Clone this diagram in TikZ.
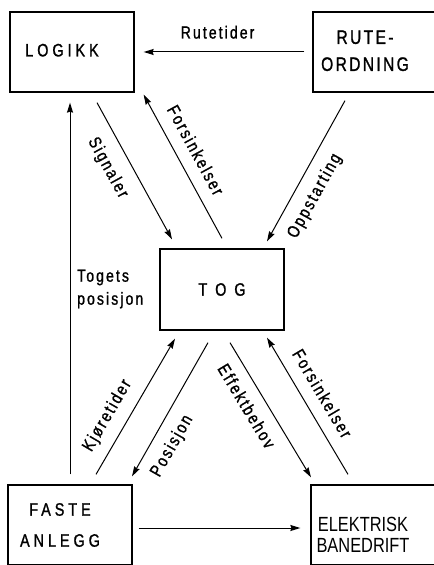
\documentclass[tikz,border=0pt]{standalone}
\usepackage{fontspec}
\setmainfont{Liberation Sans}[FakeStretch=0.8, FakeBold=1.2, LetterSpace=12]
\newfontfamily\widefont{Liberation Sans}[FakeStretch=0.8, FakeBold=1.2, LetterSpace=22]
\newfontfamily\tightfont{Liberation Sans}[FakeStretch=0.8]
\usetikzlibrary{arrows.meta}
\newcommand{\boxlabel}[1]{\begin{tabular}{@{}c@{}}#1\end{tabular}\hspace*{20bp}}

\begin{document}
\begin{tikzpicture}[
        x=1bp, y=-1bp,
        box/.style={draw, line width=1.3bp, minimum width=124bp,
                    minimum height=80bp, inner sep=0pt},
        arrow/.style={-{Stealth[length=10bp, width=6bp, inset=1bp]}, line width=1bp},
        lbl/.style={sloped, inner sep=1bp, text height=12bp, text depth=3.5bp,
                    font=\fontsize{17.5bp}{20bp}\selectfont},
    ]
        \useasboundingbox (0,0) rectangle (434,565);

        \node[box, font=\widefont\fontsize{18bp}{22bp}\selectfont] (logikk) at (72,52)
            {\boxlabel{LOGIKK}};
        \node[box, font=\fontsize{19.5bp}{27bp}\selectfont] (rute) at (375,52)
            {\boxlabel{RUTE-\\ORDNING}};
        \node[box, minimum height=81bp, font=\widefont\fontsize{18bp}{22bp}\selectfont] (tog) at (222,289.5)
            {T O G};
        \node[box, font=\widefont\fontsize{18bp}{31bp}\selectfont] (faste) at (70,525)
            {\boxlabel{FASTE\\ANLEGG}};
        \node[box, font=\tightfont\fontsize{20.5bp}{20bp}\selectfont] (elektrisk) at (373,525)
            {\boxlabel{\rule{0pt}{40bp}ELEKTRISK\\BANEDRIFT}};

        \draw[arrow] ([shift={(-8,0)}]rute.west)
            -- node[lbl, above=8.5bp, pos=0.54] (l-rute) {Rutetider} ([shift={(9,0)}]logikk.east);
        \draw[arrow] ([shift={(25,10)}]logikk.south)
            -- node[lbl, below=13bp, pos=0.40] (l-sign) {Signaler} ([shift={(-50,-9)}]tog.north);
        \draw[arrow] ([shift={(0,-10)}]tog.north)
            -- node[lbl, above=8bp, pos=0.55] (l-fors1) {Forsinkelser} ([shift={(9,2)}]logikk.south east);
        \draw[arrow] ([shift={(-30,8)}]rute.south)
            -- node[lbl, below=11bp, pos=0.61] (l-opps) {Oppstarting} ([shift={(45,-7)}]tog.north);
        \draw[arrow] ([shift={(0,-10)}]faste.north)
            -- ([shift={(-2,10)}]logikk.south);
        \node[anchor=west, align=left, inner sep=0pt, font=\fontsize{17.5bp}{23bp}\selectfont] (l-pos) at (77,289)
            {Togets\\posisjon};

        \draw[arrow] ([shift={(26,-10)}]faste.north)
            -- node[lbl, above=10bp, pos=0.36] (l-kjor) {Kjøretider} ([shift={(-47,8)}]tog.south);
        \draw[arrow] ([shift={(-14,12)}]tog.south)
            -- node[lbl, below=11bp, pos=0.70] (l-posi) {Posisjon} ([shift={(62,-8)}]faste.north);
        \draw[arrow] ([shift={(8,12)}]tog.south)
            -- node[lbl, below=11bp, pos=0.40] (l-eff) {Effektbehov} ([shift={(-62,-7)}]elektrisk.north);
        \draw[arrow] ([shift={(-25,-10)}]elektrisk.north)
            -- node[lbl, above=8bp, pos=0.52] (l-fors2) {Forsinkelser} ([shift={(45,7)}]tog.south);
        \draw[arrow] ([shift={(6,3)}]faste.east) -- ([shift={(-10,3)}]elektrisk.west);
    \end{tikzpicture}
\end{document}
